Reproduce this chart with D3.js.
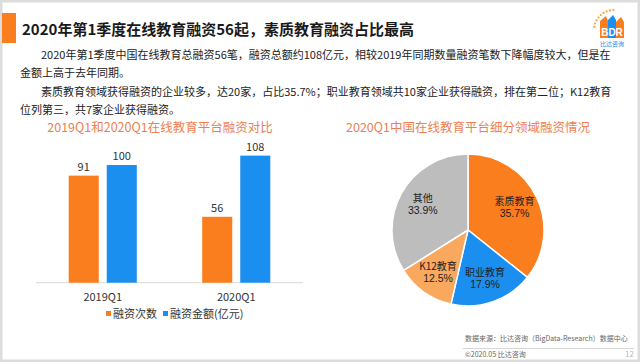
<!DOCTYPE html>
<html><head><meta charset="utf-8">
<script src="https://cdn.jsdelivr.net/npm/d3@7"></script>
<style>
html,body{margin:0;padding:0;background:#fff;}
svg{display:block;font-family:"Noto Sans CJK SC","Noto Sans",sans-serif;}
</style></head>
<body><svg id="c" width="640" height="362"></svg>
<script>
const titleText = "2020年第1季度在线教育融资56起，素质教育融资占比最高";
const paragraphLines = [
  "2020年第1季度中国在线教育总融资56笔，融资总额约108亿元，相较2019年同期数量融资笔数下降幅度较大，但是在",
  "金额上高于去年同期。",
  "素质教育领域获得融资的企业较多，达20家，占比35.7%；职业教育领域共10家企业获得融资，排在第二位；K12教育",
  "位列第三，共7家企业获得融资。"
];
const barTitle = "2019Q1和2020Q1在线教育平台融资对比";
const pieTitle = "2020Q1中国在线教育平台细分领域融资情况";
const barCategories = ["2019Q1", "2020Q1"];
const seriesNames = ["融资次数", "融资金额(亿元)"];
const countValues = [91, 56];
const amountValues = [100, 108];
const pieLabels = ["素质教育", "职业教育", "K12教育", "其他"];
const pieValues = [35.7, 17.9, 12.5, 33.9];
const sourceText = "数据来源：比达咨询（BigData-Research）数据中心";
const copyrightText = "©2020.05 比达咨询";
const pageNumber = "12";

const svg = d3.select("#c");
const ORANGE = "#FA7D1E", BLUE = "#1A8FF0", LORANGE = "#F9A85E", GRAY = "#BDBDBD";

// frame
svg.append("rect").attr("x",1).attr("y",1).attr("width",638).attr("height",360)
  .attr("fill","none").attr("stroke","#dcdcdc").attr("stroke-width",3);

// title
svg.append("rect").attr("x",2).attr("y",13).attr("width",14).attr("height",30).attr("fill",ORANGE);
svg.append("text").attr("x",22).attr("y",35).attr("font-size",15).attr("font-weight",700)
  .attr("fill","#1a1a1a").text(titleText);

// logo
const logo = svg.append("g");
for (let i = 0; i < 9; i++) {
  const a = Math.PI * (1.05 + i * 0.055);
  logo.append("circle").attr("cx", 614 + 20 * Math.cos(a)).attr("cy", 30 + 20 * Math.sin(a))
    .attr("r", 1.1).attr("fill", "#F7A23C");
}
logo.append("path").attr("d","M600,38 L600,21 L606,16 L608,21 L608,38Z").attr("fill",ORANGE);
logo.append("path").attr("d","M608,38 L608,20 L613,15 L616,20 L616,38Z").attr("fill",BLUE);
logo.append("path").attr("d","M616,38 L616,22 L621,17 L624,22 L624,38Z").attr("fill",ORANGE);
logo.append("text").attr("x",612).attr("y",36).attr("text-anchor","middle").attr("font-size",10)
  .attr("font-weight",700).attr("fill","#fff").attr("font-family","Liberation Sans, sans-serif").text("BDR");
logo.append("text").attr("x",612).attr("y",46).attr("text-anchor","middle").attr("font-size",6)
  .attr("fill",BLUE).text("比达咨询");

// paragraph
const paraX = [41, 20, 41, 20], paraY = [59, 77, 96, 114];
paragraphLines.forEach((t, i) => {
  svg.append("text").attr("x", paraX[i]).attr("y", paraY[i]).attr("font-size", 11)
    .attr("fill", "#222").text(t);
});

// sub titles
svg.append("text").attr("x",160).attr("y",132).attr("text-anchor","middle").attr("font-size",12.5)
  .attr("fill","#EE7F52").text(barTitle);
svg.append("text").attr("x",468).attr("y",132).attr("text-anchor","middle").attr("font-size",12.5)
  .attr("fill","#EE7F52").text(pieTitle);

// bar chart
const x0 = d3.scaleBand().domain(barCategories).range([36, 303]);
const x1 = d3.scaleBand().domain(seriesNames).range([0, x0.bandwidth()]).paddingInner(0.21).paddingOuter(0.86);
const y = d3.scaleLinear().domain([0, 120]).range([282.7, 141.5]);
const barData = barCategories.map((c, i) => ({cat: c, vals: [countValues[i], amountValues[i]]}));
const colors = d3.scaleOrdinal().domain(seriesNames).range([ORANGE, BLUE]);

svg.append("line").attr("x1",36).attr("x2",303).attr("y1",y(0)).attr("y2",y(0))
  .attr("stroke","#d9d9d9").attr("stroke-width",1);

const groups = svg.selectAll("g.grp").data(barData).join("g").attr("class","grp")
  .attr("transform", d => `translate(${x0(d.cat)},0)`);
groups.selectAll("rect").data(d => d.vals.map((v, j) => ({s: seriesNames[j], v})))
  .join("rect").attr("x", d => x1(d.s)).attr("width", x1.bandwidth())
  .attr("y", d => y(d.v)).attr("height", d => y(0) - y(d.v)).attr("fill", d => colors(d.s));
groups.selectAll("text.v").data(d => d.vals.map((v, j) => ({s: seriesNames[j], v})))
  .join("text").attr("class","v").attr("x", d => x1(d.s) + x1.bandwidth()/2).attr("y", d => y(d.v) - 5)
  .attr("text-anchor","middle").attr("font-size",11).attr("fill","#333").text(d => d.v);

const xAxis = svg.append("g").attr("transform",`translate(0,${y(0)})`)
  .call(d3.axisBottom(x0).tickSize(0).tickPadding(11));
xAxis.select(".domain").remove();
xAxis.selectAll("text").attr("font-size",11).attr("fill","#333")
  .attr("font-family","Noto Sans CJK SC, sans-serif");

// legend
const legX = [106, 163];
seriesNames.forEach((n, i) => {
  svg.append("rect").attr("x", legX[i]).attr("y", 311).attr("width", 5).attr("height", 5).attr("fill", colors(n));
  svg.append("text").attr("x", legX[i] + 7).attr("y", 317.5).attr("font-size", 11).attr("fill","#333").text(n);
});

// pie chart
const cx = 468, cy = 230, R = 76;
const pie = d3.pie().sort(null).value(d => d)(pieValues);
const arc = d3.arc().innerRadius(0).outerRadius(R);
const labelArc = d3.arc().innerRadius(R * 0.68).outerRadius(R * 0.68);
const pieColors = [ORANGE, BLUE, LORANGE, GRAY];
const pg = svg.append("g").attr("transform", `translate(${cx},${cy})`);
const lblG = pg.selectAll("path").data(pie).join("path").attr("d", arc)
  .attr("fill", (d, i) => pieColors[i]).attr("stroke", "#fff").attr("stroke-width", 1.5);
const lbl = pg.selectAll("g.lbl").data(pie).join("g").attr("class","lbl")
  .attr("transform", d => `translate(${labelArc.centroid(d)})`);
lbl.append("text").attr("text-anchor","middle").attr("y",-2.5).attr("font-size",10).attr("fill","#222")
  .text((d, i) => pieLabels[i]);
lbl.append("text").attr("text-anchor","middle").attr("y",9.5).attr("font-size",10.5).attr("fill","#222")
  .attr("font-family","Liberation Sans, Arial, sans-serif")
  .text(d => d.data.toFixed(1) + "%");

// footer
svg.append("text").attr("x",465).attr("y",341).attr("font-size",7).attr("fill","#666").text(sourceText);
svg.append("line").attr("x1",463).attr("x2",634).attr("y1",348.5).attr("y2",348.5).attr("stroke","#ccc").attr("stroke-width",0.8);
svg.append("text").attr("x",465).attr("y",357).attr("font-size",7).attr("fill","#666").text(copyrightText);
svg.append("text").attr("x",634).attr("y",357).attr("text-anchor","end").attr("font-size",8).attr("fill","#bbb").text(pageNumber);
</script></body></html>
